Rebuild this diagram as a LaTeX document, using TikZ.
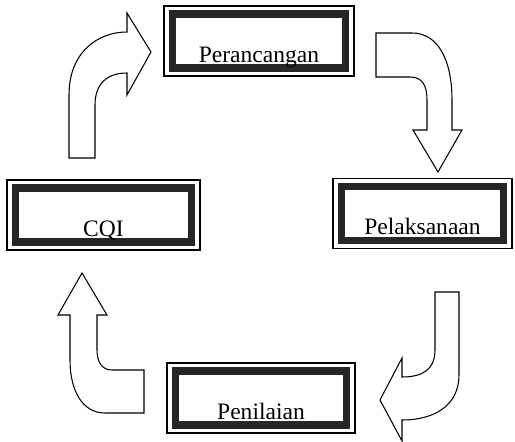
\documentclass[tikz,border=0pt]{standalone}
\usepackage{fontspec}
\setmainfont{Liberation Serif}

\begin{document}
\begin{tikzpicture}[
    x=0.02cm, y=-0.02cm,
    phase/.style={draw, line width=0.6pt, inner xsep=0pt, inner ysep=0pt,
        minimum height=1.4cm, text height=1.13cm, text depth=0.27cm,
        font=\fontsize{13.4}{16}\selectfont,
        path picture={\draw[line width=4pt, black!85]
            ([shift={(0.16cm,0.16cm)}]path picture bounding box.south west) rectangle
            ([shift={(-0.16cm,-0.16cm)}]path picture bounding box.north east);}},
    blockarrow/.style={draw, line width=0.6pt, line join=miter, fill=white}
]
\useasboundingbox (0,0) rectangle (515,442);

% the four phases of the cycle
\node[phase, minimum width=3.8cm] (plan) at (259,41) {Perancangan};
\node[phase, minimum width=3.58cm] (exec) at (422.5,213.5) {Pelaksanaan};
\node[phase, minimum width=3.76cm] (eval) at (261,398) {Penilaian};
\node[phase, minimum width=3.86cm] (cqi) at (103.5,215) {CQI};

% bent block arrows between the phases
\draw[blockarrow] (69,158) -- (69,95) .. controls (69,52) and (98,32) .. (127,32)
    -- (127,13) -- (151,52) -- (127,95) -- (127,73)
    .. controls (108,73) and (95,83) .. (95,105) -- (95,158) -- cycle;
\draw[blockarrow] (376,33) -- (412,33) .. controls (438,33) and (452,60) .. (452,100)
    -- (452,130) -- (462,130) -- (438,172) -- (413,130) -- (427,130) -- (427,100)
    .. controls (427,85) and (422,77) .. (410,77) -- (376,77) -- cycle;
\draw[blockarrow] (435,292) -- (459,292) -- (459,375) .. controls (459,405) and (435,420) .. (402,420)
    -- (402,441) -- (380,400) -- (402,358) -- (402,377)
    .. controls (422,377) and (435,370) .. (435,350) -- cycle;
\draw[blockarrow] (144,370) -- (144,413) -- (105,413) .. controls (82,413) and (70,390) .. (70,360)
    -- (70,315) -- (58,315) -- (82,273) -- (107,315) -- (97,315) -- (97,350)
    .. controls (97,362) and (102,370) .. (112,370) -- cycle;
\end{tikzpicture}
\end{document}
